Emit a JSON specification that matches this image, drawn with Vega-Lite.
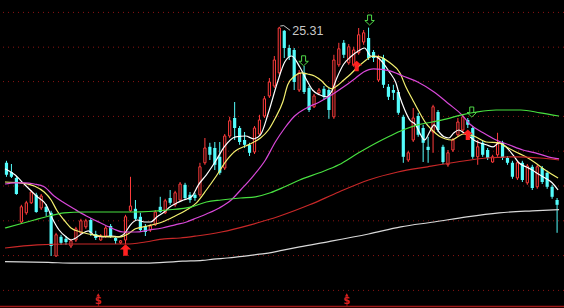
{
"$schema": "https://vega.github.io/schema/vega-lite/v6.json",
"width": 564, "height": 308, "padding": 0, "autosize": {"type": "none"},
"background": "#000000",
"config": {"view": {"stroke": null}},
"datasets": {
"k": [
{"i":0,"o":21.91,"h":21.96,"l":21.56,"c":21.61},{"i":1,"o":21.68,"h":21.88,"l":21.53,"c":21.56},{"i":2,"o":21.53,"h":21.58,"l":21.11,"c":21.13},{"i":3,"o":20.43,"h":20.86,"l":20.38,"c":20.81},{"i":4,"o":20.66,"h":20.96,"l":20.61,"c":20.91},{"i":5,"o":20.91,"h":21.23,"l":20.88,"c":21.18},{"i":6,"o":21.11,"h":21.16,"l":20.66,"c":20.68},{"i":7,"o":20.78,"h":21.13,"l":20.73,"c":21.08},{"i":8,"o":20.81,"h":20.88,"l":20.58,"c":20.68},{"i":9,"o":20.66,"h":20.71,"l":19.58,"c":19.83},
{"i":10,"o":19.58,"h":20.16,"l":19.56,"c":20.11},{"i":11,"o":20.06,"h":20.11,"l":19.86,"c":19.91},{"i":12,"o":20.01,"h":20.08,"l":19.86,"c":19.93},{"i":13,"o":19.83,"h":20.01,"l":19.78,"c":19.96},{"i":14,"o":19.98,"h":20.31,"l":19.93,"c":20.26},{"i":15,"o":20.16,"h":20.51,"l":20.13,"c":20.46},{"i":16,"o":20.31,"h":20.51,"l":20.26,"c":20.46},{"i":17,"o":20.48,"h":20.53,"l":20.08,"c":20.16},{"i":18,"o":20.13,"h":20.21,"l":19.98,"c":20.03},{"i":19,"o":19.98,"h":20.13,"l":19.96,"c":20.08},
{"i":20,"o":20.08,"h":20.33,"l":20.03,"c":20.28},{"i":21,"o":20.33,"h":20.38,"l":20.03,"c":20.06},{"i":22,"o":20.03,"h":20.08,"l":19.88,"c":19.96},{"i":23,"o":19.91,"h":19.98,"l":19.88,"c":19.96},{"i":24,"o":19.98,"h":20.61,"l":19.88,"c":20.56},{"i":25,"o":20.71,"h":21.56,"l":20.68,"c":20.83},{"i":26,"o":20.76,"h":20.98,"l":20.46,"c":20.51},{"i":27,"o":20.56,"h":20.66,"l":20.18,"c":20.23},{"i":28,"o":20.33,"h":20.38,"l":20.08,"c":20.18},{"i":29,"o":20.23,"h":20.38,"l":20.18,"c":20.33},
{"i":30,"o":20.36,"h":20.73,"l":20.33,"c":20.68},{"i":31,"o":20.81,"h":21.06,"l":20.66,"c":20.68},{"i":32,"o":20.66,"h":21.01,"l":20.63,"c":20.96},{"i":33,"o":21.03,"h":21.23,"l":20.86,"c":20.91},{"i":34,"o":20.86,"h":21.21,"l":20.81,"c":21.16},{"i":35,"o":20.98,"h":21.43,"l":20.93,"c":21.38},{"i":36,"o":21.36,"h":21.41,"l":20.98,"c":21.03},{"i":37,"o":21.11,"h":21.18,"l":20.91,"c":20.98},{"i":38,"o":21.11,"h":21.16,"l":20.96,"c":21.03},{"i":39,"o":21.11,"h":21.91,"l":21.06,"c":21.81},
{"i":40,"o":21.91,"h":22.53,"l":21.86,"c":22.28},{"i":41,"o":22.31,"h":22.41,"l":21.98,"c":22.11},{"i":42,"o":22.28,"h":22.43,"l":21.73,"c":21.86},{"i":43,"o":22.06,"h":22.43,"l":21.61,"c":21.66},{"i":44,"o":21.78,"h":22.63,"l":21.73,"c":22.58},{"i":45,"o":22.58,"h":23.06,"l":22.53,"c":22.96},{"i":46,"o":23.03,"h":23.43,"l":22.48,"c":22.78},{"i":47,"o":22.78,"h":22.83,"l":22.36,"c":22.43},{"i":48,"o":22.48,"h":22.68,"l":22.28,"c":22.36},{"i":49,"o":22.36,"h":22.41,"l":22.08,"c":22.16},
{"i":50,"o":22.18,"h":22.83,"l":22.13,"c":22.78},{"i":51,"o":22.63,"h":23.11,"l":22.58,"c":22.98},{"i":52,"o":23.08,"h":23.58,"l":23.03,"c":23.51},{"i":53,"o":23.58,"h":24.03,"l":23.53,"c":23.93},{"i":54,"o":23.83,"h":24.58,"l":23.78,"c":24.48},{"i":55,"o":24.16,"h":25.31,"l":24.11,"c":25.28},{"i":56,"o":25.21,"h":25.23,"l":24.53,"c":24.78},{"i":57,"o":24.78,"h":24.86,"l":24.48,"c":24.56},{"i":58,"o":24.73,"h":24.78,"l":23.73,"c":23.93},{"i":59,"o":23.73,"h":24.23,"l":23.68,"c":24.16},
{"i":60,"o":24.16,"h":24.33,"l":23.63,"c":23.68},{"i":61,"o":23.78,"h":23.83,"l":23.18,"c":23.23},{"i":62,"o":23.31,"h":23.63,"l":23.28,"c":23.58},{"i":63,"o":23.66,"h":23.78,"l":23.61,"c":23.73},{"i":64,"o":23.76,"h":23.83,"l":23.48,"c":23.56},{"i":65,"o":23.73,"h":23.78,"l":23.01,"c":23.23},{"i":66,"o":23.06,"h":24.61,"l":23.01,"c":24.48},{"i":67,"o":24.36,"h":24.91,"l":24.31,"c":24.76},{"i":68,"o":24.91,"h":24.98,"l":24.53,"c":24.61},{"i":69,"o":24.41,"h":24.88,"l":24.36,"c":24.81},
{"i":70,"o":24.36,"h":24.81,"l":24.31,"c":24.73},{"i":71,"o":24.66,"h":25.28,"l":24.61,"c":25.11},{"i":72,"o":24.93,"h":25.23,"l":24.86,"c":25.16},{"i":73,"o":25.03,"h":25.29,"l":24.48,"c":24.53},{"i":74,"o":24.68,"h":24.73,"l":24.43,"c":24.53},{"i":75,"o":23.98,"h":24.61,"l":23.93,"c":24.53},{"i":76,"o":24.53,"h":24.61,"l":23.78,"c":23.86},{"i":77,"o":23.81,"h":23.88,"l":23.48,"c":23.56},{"i":78,"o":23.73,"h":23.86,"l":23.48,"c":23.66},{"i":79,"o":23.68,"h":23.73,"l":23.11,"c":23.16},
{"i":80,"o":23.06,"h":23.11,"l":21.91,"c":22.06},{"i":81,"o":21.98,"h":22.21,"l":21.93,"c":22.16},{"i":82,"o":22.48,"h":23.28,"l":22.43,"c":23.03},{"i":83,"o":23.08,"h":23.16,"l":22.56,"c":22.61},{"i":84,"o":22.78,"h":22.86,"l":21.93,"c":22.41},{"i":85,"o":22.31,"h":22.56,"l":21.91,"c":22.23},{"i":86,"o":22.68,"h":23.36,"l":22.16,"c":23.31},{"i":87,"o":23.18,"h":23.23,"l":22.68,"c":22.73},{"i":88,"o":22.31,"h":22.36,"l":21.88,"c":21.93},{"i":89,"o":21.86,"h":22.23,"l":21.81,"c":22.16},
{"i":90,"o":22.23,"h":22.53,"l":22.18,"c":22.48},{"i":91,"o":22.61,"h":23.03,"l":22.56,"c":22.93},{"i":92,"o":22.73,"h":23.13,"l":22.68,"c":23.06},{"i":93,"o":22.98,"h":23.03,"l":22.78,"c":22.86},{"i":94,"o":22.78,"h":22.83,"l":22.01,"c":22.06},{"i":95,"o":22.06,"h":22.48,"l":21.86,"c":22.31},{"i":96,"o":22.41,"h":22.46,"l":22.06,"c":22.11},{"i":97,"o":22.23,"h":22.28,"l":21.98,"c":22.03},{"i":98,"o":21.93,"h":22.11,"l":21.91,"c":22.06},{"i":99,"o":22.11,"h":22.66,"l":22.06,"c":22.41},
{"i":100,"o":22.41,"h":22.46,"l":21.98,"c":22.03},{"i":101,"o":22.03,"h":22.08,"l":21.86,"c":21.91},{"i":102,"o":21.91,"h":21.96,"l":21.51,"c":21.56},{"i":103,"o":21.53,"h":21.96,"l":21.48,"c":21.91},{"i":104,"o":21.91,"h":21.96,"l":21.43,"c":21.48},{"i":105,"o":21.41,"h":21.88,"l":21.36,"c":21.83},{"i":106,"o":21.81,"h":21.86,"l":21.23,"c":21.28},{"i":107,"o":21.31,"h":21.86,"l":21.26,"c":21.81},{"i":108,"o":21.78,"h":21.83,"l":21.38,"c":21.43},{"i":109,"o":21.66,"h":21.71,"l":21.26,"c":21.31},
{"i":110,"o":21.31,"h":21.36,"l":21.01,"c":21.06},{"i":111,"o":20.98,"h":21.03,"l":20.16,"c":20.86}
],
"ma": [
{"s":"MA5","d":-0.3,"p":21.76},{"s":"MA5","d":1.7,"p":21.61},{"s":"MA5","d":3.7,"p":21.36},{"s":"MA5","d":6.2,"p":21.06},{"s":"MA5","d":8.0,"p":20.86},{"s":"MA5","d":9.2,"p":20.53},{"s":"MA5","d":10.6,"p":20.23},{"s":"MA5","d":12.0,"p":20.06},{"s":"MA5","d":13.0,"p":19.98},{"s":"MA5","d":14.0,"p":20.03},{"s":"MA5","d":15.1,"p":20.13},{"s":"MA5","d":16.5,"p":20.21},{"s":"MA5","d":17.9,"p":20.08},{"s":"MA5","d":19.5,"p":20.06},{"s":"MA5","d":21.1,"p":20.08},{"s":"MA5","d":22.5,"p":20.06},{"s":"MA5","d":23.9,"p":20.16},{"s":"MA5","d":25.0,"p":20.36},{"s":"MA5","d":26.4,"p":20.48},{"s":"MA5","d":27.8,"p":20.43},{"s":"MA5","d":29.0,"p":20.43},{"s":"MA5","d":30.4,"p":20.56},{"s":"MA5","d":31.8,"p":20.68},{"s":"MA5","d":33.0,"p":20.81},{"s":"MA5","d":34.4,"p":20.91},{"s":"MA5","d":35.7,"p":20.98},{"s":"MA5","d":37.3,"p":21.06},{"s":"MA5","d":38.7,"p":21.36},{"s":"MA5","d":40.3,"p":21.61},{"s":"MA5","d":42.3,"p":21.98},{"s":"MA5","d":43.9,"p":22.31},{"s":"MA5","d":46.2,"p":22.56},{"s":"MA5","d":48.2,"p":22.58},{"s":"MA5","d":49.8,"p":22.51},{"s":"MA5","d":51.2,"p":22.61},{"s":"MA5","d":52.8,"p":23.16},{"s":"MA5","d":54.6,"p":23.91},{"s":"MA5","d":56.1,"p":24.43},{"s":"MA5","d":57.5,"p":24.58},{"s":"MA5","d":59.1,"p":24.31},{"s":"MA5","d":60.5,"p":23.98},{"s":"MA5","d":61.7,"p":23.73},{"s":"MA5","d":63.1,"p":23.61},{"s":"MA5","d":64.5,"p":23.56},{"s":"MA5","d":65.5,"p":23.68},{"s":"MA5","d":66.6,"p":24.03},{"s":"MA5","d":68.0,"p":24.38},{"s":"MA5","d":69.4,"p":24.56},{"s":"MA5","d":71.0,"p":24.71},{"s":"MA5","d":72.2,"p":24.78},{"s":"MA5","d":73.4,"p":24.58},{"s":"MA5","d":74.6,"p":24.56},{"s":"MA5","d":75.9,"p":24.41},{"s":"MA5","d":77.3,"p":24.16},{"s":"MA5","d":78.5,"p":23.91},{"s":"MA5","d":79.3,"p":23.56},{"s":"MA5","d":80.3,"p":23.23},{"s":"MA5","d":81.3,"p":22.98},{"s":"MA5","d":82.5,"p":22.86},{"s":"MA5","d":83.5,"p":22.61},{"s":"MA5","d":84.3,"p":22.48},{"s":"MA5","d":85.3,"p":22.68},{"s":"MA5","d":86.2,"p":22.86},{"s":"MA5","d":87.2,"p":22.68},{"s":"MA5","d":88.2,"p":22.56},{"s":"MA5","d":89.2,"p":22.53},{"s":"MA5","d":90.2,"p":22.66},{"s":"MA5","d":91.2,"p":22.73},{"s":"MA5","d":92.2,"p":22.66},{"s":"MA5","d":93.2,"p":22.58},{"s":"MA5","d":94.2,"p":22.48},{"s":"MA5","d":95.4,"p":22.41},{"s":"MA5","d":96.7,"p":22.36},{"s":"MA5","d":98.1,"p":22.31},{"s":"MA5","d":99.3,"p":22.41},{"s":"MA5","d":100.7,"p":22.31},{"s":"MA5","d":102.1,"p":22.11},{"s":"MA5","d":103.3,"p":21.91},{"s":"MA5","d":104.7,"p":21.81},{"s":"MA5","d":106.0,"p":21.73},{"s":"MA5","d":107.2,"p":21.63},{"s":"MA5","d":108.6,"p":21.53},{"s":"MA5","d":110.0,"p":21.41},{"s":"MA5","d":111.2,"p":21.23},
{"s":"MA10","d":-0.3,"p":21.43},{"s":"MA10","d":2.7,"p":21.41},{"s":"MA10","d":5.6,"p":21.33},{"s":"MA10","d":7.6,"p":21.18},{"s":"MA10","d":9.0,"p":20.98},{"s":"MA10","d":10.2,"p":20.71},{"s":"MA10","d":11.6,"p":20.48},{"s":"MA10","d":13.0,"p":20.28},{"s":"MA10","d":15.0,"p":20.18},{"s":"MA10","d":17.5,"p":20.11},{"s":"MA10","d":20.5,"p":20.06},{"s":"MA10","d":23.1,"p":20.06},{"s":"MA10","d":24.5,"p":20.13},{"s":"MA10","d":26.0,"p":20.26},{"s":"MA10","d":28.4,"p":20.33},{"s":"MA10","d":31.4,"p":20.43},{"s":"MA10","d":34.0,"p":20.58},{"s":"MA10","d":36.3,"p":20.73},{"s":"MA10","d":38.3,"p":20.91},{"s":"MA10","d":40.3,"p":21.23},{"s":"MA10","d":42.3,"p":21.58},{"s":"MA10","d":44.3,"p":21.96},{"s":"MA10","d":46.2,"p":22.21},{"s":"MA10","d":48.2,"p":22.33},{"s":"MA10","d":49.6,"p":22.41},{"s":"MA10","d":51.2,"p":22.53},{"s":"MA10","d":52.8,"p":22.73},{"s":"MA10","d":54.2,"p":23.03},{"s":"MA10","d":55.7,"p":23.43},{"s":"MA10","d":56.7,"p":23.86},{"s":"MA10","d":58.1,"p":24.08},{"s":"MA10","d":59.5,"p":24.16},{"s":"MA10","d":60.7,"p":24.13},{"s":"MA10","d":62.1,"p":24.08},{"s":"MA10","d":63.5,"p":23.96},{"s":"MA10","d":64.7,"p":23.81},{"s":"MA10","d":65.6,"p":23.76},{"s":"MA10","d":66.6,"p":23.83},{"s":"MA10","d":68.0,"p":23.98},{"s":"MA10","d":69.4,"p":24.13},{"s":"MA10","d":70.6,"p":24.28},{"s":"MA10","d":72.0,"p":24.43},{"s":"MA10","d":74.0,"p":24.58},{"s":"MA10","d":75.3,"p":24.56},{"s":"MA10","d":77.3,"p":24.41},{"s":"MA10","d":79.3,"p":24.16},{"s":"MA10","d":80.5,"p":23.81},{"s":"MA10","d":81.9,"p":23.48},{"s":"MA10","d":83.3,"p":23.16},{"s":"MA10","d":84.5,"p":22.91},{"s":"MA10","d":85.8,"p":22.73},{"s":"MA10","d":87.2,"p":22.58},{"s":"MA10","d":88.4,"p":22.51},{"s":"MA10","d":89.8,"p":22.48},{"s":"MA10","d":91.2,"p":22.58},{"s":"MA10","d":92.2,"p":22.63},{"s":"MA10","d":94.2,"p":22.58},{"s":"MA10","d":96.7,"p":22.43},{"s":"MA10","d":99.3,"p":22.41},{"s":"MA10","d":100.7,"p":22.31},{"s":"MA10","d":102.7,"p":22.18},{"s":"MA10","d":104.7,"p":22.06},{"s":"MA10","d":106.6,"p":21.91},{"s":"MA10","d":108.6,"p":21.73},{"s":"MA10","d":111.2,"p":21.53},
{"s":"MA20","d":-0.3,"p":21.38},{"s":"MA20","d":1.7,"p":21.41},{"s":"MA20","d":3.7,"p":21.41},{"s":"MA20","d":5.6,"p":21.38},{"s":"MA20","d":7.6,"p":21.31},{"s":"MA20","d":9.6,"p":21.08},{"s":"MA20","d":11.6,"p":20.91},{"s":"MA20","d":13.6,"p":20.76},{"s":"MA20","d":16.1,"p":20.58},{"s":"MA20","d":18.9,"p":20.41},{"s":"MA20","d":21.5,"p":20.26},{"s":"MA20","d":23.5,"p":20.18},{"s":"MA20","d":26.0,"p":20.18},{"s":"MA20","d":28.8,"p":20.23},{"s":"MA20","d":31.4,"p":20.28},{"s":"MA20","d":34.0,"p":20.36},{"s":"MA20","d":36.3,"p":20.43},{"s":"MA20","d":38.3,"p":20.53},{"s":"MA20","d":40.3,"p":20.63},{"s":"MA20","d":42.9,"p":20.78},{"s":"MA20","d":45.3,"p":20.98},{"s":"MA20","d":47.2,"p":21.23},{"s":"MA20","d":49.6,"p":21.56},{"s":"MA20","d":52.2,"p":21.98},{"s":"MA20","d":54.2,"p":22.43},{"s":"MA20","d":56.1,"p":22.78},{"s":"MA20","d":58.1,"p":23.08},{"s":"MA20","d":60.5,"p":23.28},{"s":"MA20","d":63.1,"p":23.43},{"s":"MA20","d":65.6,"p":23.61},{"s":"MA20","d":68.0,"p":23.81},{"s":"MA20","d":70.4,"p":24.03},{"s":"MA20","d":72.0,"p":24.18},{"s":"MA20","d":74.0,"p":24.26},{"s":"MA20","d":77.3,"p":24.21},{"s":"MA20","d":79.9,"p":24.08},{"s":"MA20","d":82.9,"p":23.93},{"s":"MA20","d":86.2,"p":23.68},{"s":"MA20","d":89.2,"p":23.38},{"s":"MA20","d":91.8,"p":23.11},{"s":"MA20","d":93.4,"p":22.88},{"s":"MA20","d":96.1,"p":22.66},{"s":"MA20","d":98.7,"p":22.48},{"s":"MA20","d":101.3,"p":22.36},{"s":"MA20","d":104.1,"p":22.23},{"s":"MA20","d":106.6,"p":22.16},{"s":"MA20","d":109.2,"p":22.06},{"s":"MA20","d":111.4,"p":22.01},
{"s":"MA60","d":-0.3,"p":20.28},{"s":"MA60","d":2.7,"p":20.38},{"s":"MA60","d":5.6,"p":20.48},{"s":"MA60","d":8.6,"p":20.58},{"s":"MA60","d":11.6,"p":20.66},{"s":"MA60","d":15.5,"p":20.68},{"s":"MA60","d":19.5,"p":20.68},{"s":"MA60","d":25.5,"p":20.68},{"s":"MA60","d":32.4,"p":20.73},{"s":"MA60","d":37.3,"p":20.81},{"s":"MA60","d":40.3,"p":20.93},{"s":"MA60","d":43.3,"p":20.98},{"s":"MA60","d":47.2,"p":21.03},{"s":"MA60","d":50.2,"p":21.06},{"s":"MA60","d":53.2,"p":21.16},{"s":"MA60","d":56.1,"p":21.31},{"s":"MA60","d":59.1,"p":21.48},{"s":"MA60","d":63.1,"p":21.66},{"s":"MA60","d":67.0,"p":21.86},{"s":"MA60","d":71.0,"p":22.16},{"s":"MA60","d":74.9,"p":22.43},{"s":"MA60","d":77.3,"p":22.58},{"s":"MA60","d":79.9,"p":22.73},{"s":"MA60","d":82.9,"p":22.86},{"s":"MA60","d":85.8,"p":22.93},{"s":"MA60","d":88.8,"p":23.01},{"s":"MA60","d":91.8,"p":23.11},{"s":"MA60","d":94.8,"p":23.18},{"s":"MA60","d":98.7,"p":23.23},{"s":"MA60","d":103.7,"p":23.23},{"s":"MA60","d":107.6,"p":23.16},{"s":"MA60","d":111.4,"p":23.08},
{"s":"MA120","d":-0.3,"p":19.78},{"s":"MA120","d":6.2,"p":19.86},{"s":"MA120","d":13.0,"p":19.88},{"s":"MA120","d":19.5,"p":19.88},{"s":"MA120","d":24.1,"p":19.88},{"s":"MA120","d":28.0,"p":19.93},{"s":"MA120","d":31.8,"p":20.01},{"s":"MA120","d":35.0,"p":20.03},{"s":"MA120","d":38.3,"p":20.08},{"s":"MA120","d":43.3,"p":20.18},{"s":"MA120","d":49.2,"p":20.36},{"s":"MA120","d":55.1,"p":20.58},{"s":"MA120","d":61.1,"p":20.86},{"s":"MA120","d":67.0,"p":21.18},{"s":"MA120","d":73.0,"p":21.48},{"s":"MA120","d":78.9,"p":21.68},{"s":"MA120","d":84.9,"p":21.81},{"s":"MA120","d":90.8,"p":21.93},{"s":"MA120","d":96.7,"p":22.03},{"s":"MA120","d":102.7,"p":22.06},{"s":"MA120","d":107.6,"p":22.03},{"s":"MA120","d":111.4,"p":21.98},
{"s":"MA250","d":-0.3,"p":19.44},{"s":"MA250","d":8.4,"p":19.42},{"s":"MA250","d":13.6,"p":19.4},{"s":"MA250","d":27.4,"p":19.4},{"s":"MA250","d":31.6,"p":19.42},{"s":"MA250","d":35.5,"p":19.45},{"s":"MA250","d":39.5,"p":19.47},{"s":"MA250","d":41.7,"p":19.5},{"s":"MA250","d":44.5,"p":19.53},{"s":"MA250","d":47.6,"p":19.57},{"s":"MA250","d":50.6,"p":19.62},{"s":"MA250","d":53.6,"p":19.67},{"s":"MA250","d":55.5,"p":19.72},{"s":"MA250","d":59.1,"p":19.81},{"s":"MA250","d":65.0,"p":19.94},{"s":"MA250","d":73.0,"p":20.13},{"s":"MA250","d":79.5,"p":20.31},{"s":"MA250","d":86.2,"p":20.43},{"s":"MA250","d":92.8,"p":20.56},{"s":"MA250","d":99.3,"p":20.66},{"s":"MA250","d":106.0,"p":20.71},{"s":"MA250","d":111.4,"p":20.74}
],
"grid": [{"p":25.67},{"p":24.8},{"p":23.94},{"p":23.07},{"p":22.2},{"p":21.33},{"p":20.46},{"p":19.59},{"p":18.72}],
"up": [{"d":24.0,"p":19.73,"sz":130},{"d":70.6,"p":24.33,"sz":110},{"d":93.0,"p":22.61,"sz":110}],
"dn": [{"d":59.9,"p":24.46},{"d":73.2,"p":25.48},{"d":93.8,"p":23.18}],
"sig": [{"d":18.5,"p":18.46},{"d":68.6,"p":18.46}]
},
"layer": [
{"data": {"name": "grid"}, "mark": {"type": "rule", "color": "#8a1414", "strokeWidth": 1, "strokeDash": [1, 4]},
 "encoding": {"y": {"field": "p", "type": "quantitative", "scale": {"domain": [18.28, 25.98], "nice": false, "zero": false}, "axis": null}}},
{"data": {"values": [{"p": 18.32}]}, "mark": {"type": "rule", "color": "#a01818", "strokeWidth": 1.5},
 "encoding": {"y": {"field": "p", "type": "quantitative", "scale": {"domain": [18.28, 25.98], "nice": false, "zero": false}, "axis": null}}},
{"data": {"name": "k"}, "mark": {"type": "rule", "strokeWidth": 1},
 "encoding": {
  "x": {"field": "i", "type": "quantitative", "scale": {"domain": [-0.297, 111.386], "nice": false, "zero": false}, "axis": null},
  "y": {"field": "l", "type": "quantitative", "scale": {"domain": [18.28, 25.98], "nice": false, "zero": false}, "axis": null},
  "y2": {"field": "h"},
  "color": {"condition": {"test": "datum.c >= datum.o", "value": "#ff3c3c"}, "value": "#54fcfc"}}},
{"data": {"name": "k"}, "transform": [{"filter": "datum.c < datum.o"}], "mark": {"type": "bar", "width": 3.2, "color": "#54fcfc"},
 "encoding": {
  "x": {"field": "i", "type": "quantitative"},
  "y": {"field": "o", "type": "quantitative"},
  "y2": {"field": "c"}}},
{"data": {"name": "k"}, "transform": [{"filter": "datum.c >= datum.o"}], "mark": {"type": "bar", "width": 2.2, "fill": "#000000", "stroke": "#ff3c3c", "strokeWidth": 1},
 "encoding": {
  "x": {"field": "i", "type": "quantitative"},
  "y": {"field": "o", "type": "quantitative"},
  "y2": {"field": "c"}}},
{"data": {"name": "ma"}, "mark": {"type": "line", "strokeWidth": 1.2, "clip": true, "interpolate": "monotone"},
 "encoding": {
  "x": {"field": "d", "type": "quantitative"},
  "y": {"field": "p", "type": "quantitative"},
  "detail": {"field": "s"},
  "color": {"field": "s", "type": "nominal", "legend": null,
   "scale": {"domain": ["MA5", "MA10", "MA20", "MA60", "MA120", "MA250"], "range": ["#ffffff", "#f4f070", "#d848d8", "#48e040", "#c82828", "#d8d8d8"]}}}},
{"data": {"name": "up"}, "mark": {"type": "point", "filled": true, "opacity": 1, "color": "#ff2020", "shape": "M0,-1L1,-0.1L0.4,-0.1L0.4,1L-0.4,1L-0.4,-0.1L-1,-0.1Z"},
 "encoding": {
  "x": {"field": "d", "type": "quantitative"},
  "y": {"field": "p", "type": "quantitative"},
  "size": {"field": "sz", "type": "quantitative", "scale": null, "legend": null}}},
{"data": {"name": "dn"}, "mark": {"type": "point", "filled": false, "opacity": 1, "color": "#50d848", "strokeWidth": 1, "size": 100, "shape": "M-0.4,-1L0.4,-1L0.4,0.1L0.95,0.1L0,1L-0.95,0.1L-0.4,0.1Z"},
 "encoding": {
  "x": {"field": "d", "type": "quantitative"},
  "y": {"field": "p", "type": "quantitative"}}},
{"data": {"values": [{"d": 55.2, "p": 25.33}, {"d": 55.9, "p": 25.34}, {"d": 57.2, "p": 25.22}]}, "mark": {"type": "line", "color": "#c8c8c8", "strokeWidth": 1},
 "encoding": {
  "x": {"field": "d", "type": "quantitative"},
  "y": {"field": "p", "type": "quantitative"}}},
{"data": {"values": [{"d": 57.6, "p": 25.2, "t": "25.31"}]}, "mark": {"type": "text", "align": "left", "baseline": "middle", "font": "Liberation Sans", "fontSize": 12.5, "color": "#c8c8c8"},
 "encoding": {
  "x": {"field": "d", "type": "quantitative"},
  "y": {"field": "p", "type": "quantitative"},
  "text": {"field": "t"}}},
{"data": {"name": "sig"}, "mark": {"type": "text", "text": "$", "align": "center", "baseline": "middle", "font": "DejaVu Sans", "fontWeight": "bold", "fontSize": 10, "color": "#d82020"},
 "encoding": {
  "x": {"field": "d", "type": "quantitative"},
  "y": {"field": "p", "type": "quantitative"}}},
{"data": {"name": "sig"}, "mark": {"type": "point", "shape": "triangle-up", "filled": true, "opacity": 1, "size": 14, "color": "#d82020", "yOffset": -6},
 "encoding": {
  "x": {"field": "d", "type": "quantitative"},
  "y": {"field": "p", "type": "quantitative"}}}
]
}
